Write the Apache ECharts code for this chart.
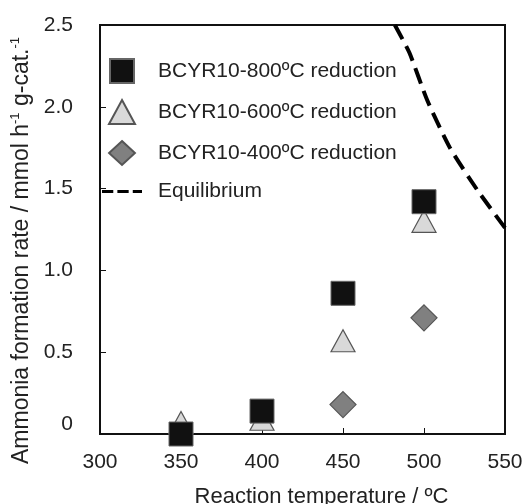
<!DOCTYPE html>
<html>
  <head>
    <meta charset="utf-8" />
    <title>Ammonia formation rate</title>
    <script src="https://cdn.jsdelivr.net/npm/echarts@6/dist/echarts.min.js"></script>
    <style>
      html, body { margin: 0; padding: 0; background: #fff; }
    </style>
  </head>
  <body>
    <div id="main" style="width:524px;height:504px;"></div>
    <script type="text/javascript">
// data
var temps = [350, 400, 450, 500];
var rate800 = [0.0, 0.14, 0.86, 1.42];
var rate600 = [0.07, 0.09, 0.57, 1.30];
var temps400 = [450, 500];
var rate400 = [0.18, 0.71];
var eqTemps = [482, 491, 502, 516, 533, 550];
var eqRate = [2.5, 2.33, 2.04, 1.75, 1.49, 1.26];
var xTicks = [300, 350, 400, 450, 500, 550];
var yTicks = [0, 0.5, 1.0, 1.5, 2.0, 2.5];

function pairs(xs, ys) {
  var out = [];
  for (var i = 0; i < xs.length; i++) out.push([xs[i], ys[i]]);
  return out;
}

var font = 'Liberation Sans, Arial, sans-serif';
var myChart = echarts.init(document.getElementById('main'));

// legend icons as paths so they keep their shape
var sqIcon = 'path://M0,0h24v24h-24z';
var triIcon = 'path://M13,0L26,24H0Z';
var diaIcon = 'path://M14,0L28,13L14,26L0,13Z';
var dashIcon = 'path://M0,0h11v3h-11zM15,0h11v3h-11zM30,0h9v3h-9z';

var option = {
  backgroundColor: '#fff',
  animation: false,
  textStyle: { fontFamily: font },
  grid: {
    left: 100, right: 19, top: 25, bottom: 70,
    containLabel: false,
    outerBoundsMode: 'none',
    show: true, borderColor: '#111', borderWidth: 2
  },
  legend: {
    orient: 'vertical',
    left: 97,
    top: 53,
    itemGap: 15,
    itemWidth: 40,
    itemHeight: 24,
    textStyle: { fontSize: 21, color: '#222', fontFamily: font, padding: [0, 0, 0, 11] },
    data: [
      { name: 'BCYR10-800ºC reduction', icon: sqIcon },
      { name: 'BCYR10-600ºC reduction', icon: triIcon },
      { name: 'BCYR10-400ºC reduction', icon: diaIcon },
      { name: 'Equilibrium', icon: dashIcon, itemStyle: { color: '#000' } }
    ]
  },
  xAxis: {
    type: 'value',
    min: 300, max: 550, interval: 50,
    name: 'Reaction temperature / ºC',
    nameLocation: 'middle',
    nameGap: 52,
    nameTextStyle: { fontSize: 22, color: '#222', fontFamily: font, padding: [0, 0, 0, 38] },
    axisLine: { lineStyle: { color: '#111', width: 2 } },
    axisTick: { inside: true, length: 6, lineStyle: { color: '#111', width: 1 } },
    axisLabel: {
      fontSize: 21, color: '#222', margin: 18,
      formatter: function (v) { return xTicks.indexOf(v) >= 0 ? String(v) : ''; }
    },
    splitLine: { show: false }
  },
  yAxis: {
    type: 'value',
    min: 0, max: 2.5, interval: 0.5,
    name: '{a|Ammonia formation rate / mmol h}{s|-1}{a| g-cat.}{s|-1}',
    nameLocation: 'middle',
    nameGap: 66,
    nameTextStyle: {
      color: '#222', fontFamily: font,
      padding: [0, 42, 0, 0],
      rich: {
        a: { fontSize: 23, color: '#222', fontFamily: font },
        s: { fontSize: 13, color: '#222', fontFamily: font, padding: [0, 0, 12, 0] }
      }
    },
    axisLine: { show: true, lineStyle: { color: '#111', width: 2 } },
    axisTick: { show: true, inside: true, length: 6, lineStyle: { color: '#111', width: 1 } },
    axisLabel: {
      fontSize: 21, color: '#222', margin: 27,
      formatter: function (v) {
        var i = yTicks.indexOf(v);
        if (i < 0) return '';
        return v === 0 ? '{z|0}' : v.toFixed(1);
      },
      rich: {
        z: { fontSize: 21, color: '#222', fontFamily: font, padding: [0, 0, 20, 0] }
      }
    },
    splitLine: { show: false }
  },
  series: [
    {
      name: 'Equilibrium',
      type: 'line',
      data: pairs(eqTemps, eqRate),
      smooth: 0.2,
      showSymbol: false,
      symbol: 'none',
      lineStyle: { color: '#000', width: 4, type: [16, 8] },
      itemStyle: { color: '#000' },
      z: 1
    },
    {
      name: 'BCYR10-400ºC reduction',
      type: 'scatter',
      symbol: 'diamond',
      symbolSize: [26, 26],
      clip: false,
      data: pairs(temps400, rate400),
      itemStyle: { color: '#808080', borderColor: '#555', borderWidth: 1.2, opacity: 1 },
      z: 2
    },
    {
      name: 'BCYR10-600ºC reduction',
      type: 'scatter',
      symbol: 'triangle',
      symbolSize: [24, 22],
      clip: false,
      data: pairs(temps, rate600),
      itemStyle: { color: '#d9d9d9', borderColor: '#555', borderWidth: 1.2, opacity: 1 },
      z: 3
    },
    {
      name: 'BCYR10-800ºC reduction',
      type: 'scatter',
      symbol: 'rect',
      symbolSize: 24,
      clip: false,
      data: pairs(temps, rate800),
      itemStyle: { color: '#111', borderColor: '#666', borderWidth: 1, opacity: 1 },
      z: 4
    }
  ]
};

myChart.setOption(option);
    </script>
  </body>
</html>
